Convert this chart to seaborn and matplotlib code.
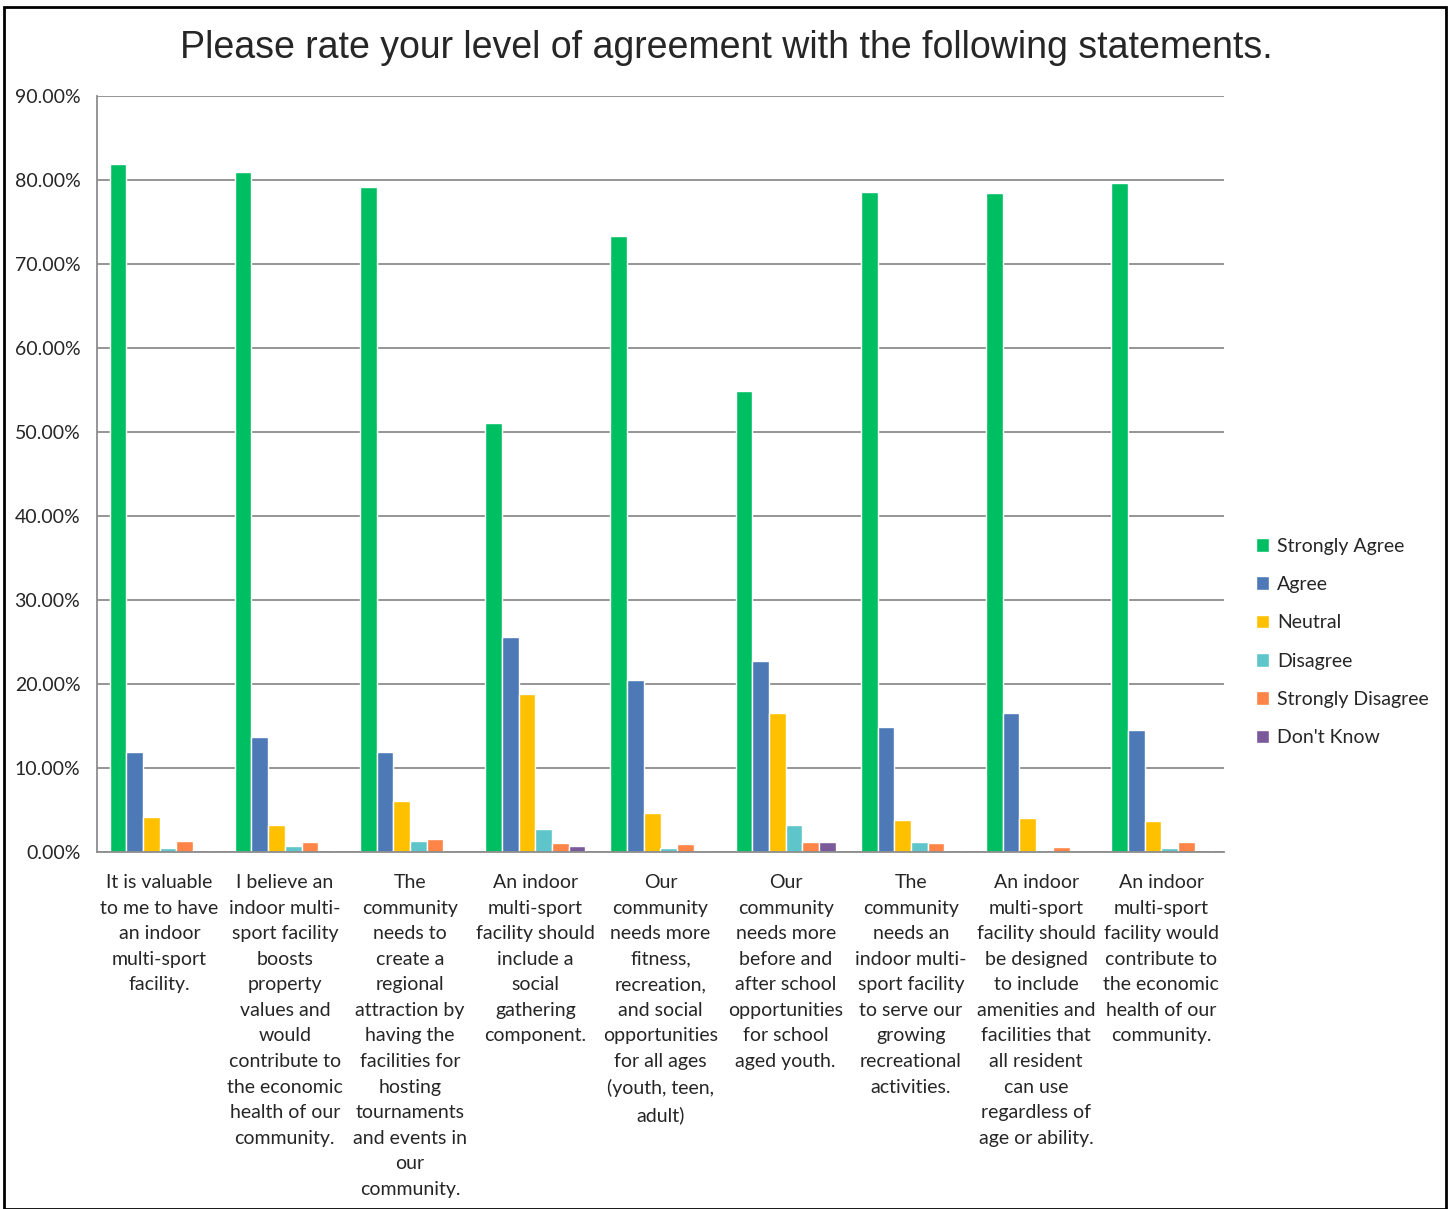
import numpy as np
import pandas as pd
import seaborn as sns
import matplotlib.pyplot as plt
from matplotlib.patches import Rectangle, Patch
from matplotlib.ticker import PercentFormatter, FixedLocator

statements = [
    "It is valuable\nto me to have\nan indoor\nmulti-sport\nfacility.",
    "I believe an\nindoor multi-\nsport facility\nboosts\nproperty\nvalues and\nwould\ncontribute to\nthe economic\nhealth of our\ncommunity.",
    "The\ncommunity\nneeds to\ncreate a\nregional\nattraction by\nhaving the\nfacilities for\nhosting\ntournaments\nand events in\nour\ncommunity.",
    "An indoor\nmulti-sport\nfacility should\ninclude a\nsocial\ngathering\ncomponent.",
    "Our\ncommunity\nneeds more\nfitness,\nrecreation,\nand social\nopportunities\nfor all ages\n(youth, teen,\nadult)",
    "Our\ncommunity\nneeds more\nbefore and\nafter school\nopportunities\nfor school\naged youth.",
    "The\ncommunity\nneeds an\nindoor multi-\nsport facility\nto serve our\ngrowing\nrecreational\nactivities.",
    "An indoor\nmulti-sport\nfacility should\nbe designed\nto include\namenities and\nfacilities that\nall resident\ncan use\nregardless of\nage or ability.",
    "An indoor\nmulti-sport\nfacility would\ncontribute to\nthe economic\nhealth of our\ncommunity.",
]
responses = ["Strongly Agree", "Agree", "Neutral", "Disagree", "Strongly Disagree", "Don't Know"]
colors = ["#00BF63", "#4E79B7", "#FFC000", "#5EC6CB", "#FF8447", "#7A5A99"]

strongly_agree = [81.9, 81.0, 79.2, 51.1, 73.3, 54.9, 78.6, 78.5, 79.6]
agree = [11.9, 13.7, 11.9, 25.6, 20.5, 22.7, 14.9, 16.5, 14.5]
neutral = [4.2, 3.2, 6.1, 18.8, 4.6, 16.5, 3.8, 4.0, 3.7]
disagree = [0.5, 0.7, 1.3, 2.7, 0.5, 3.2, 1.2, 0.2, 0.5]
strongly_disagree = [1.3, 1.2, 1.5, 1.1, 1.0, 1.2, 1.1, 0.6, 1.2]
dont_know = [0.2, 0.2, 0.0, 0.7, 0.0, 1.2, 0.2, 0.0, 0.2]

series = [strongly_agree, agree, neutral, disagree, strongly_disagree, dont_know]
rows = []
for resp, vals in zip(responses, series):
    for i, v in enumerate(vals):
        rows.append({"Statement": i, "Response": resp, "Value": v / 100})
df = pd.DataFrame(rows)

sns.set_style("white")
plt.rcParams["font.family"] = ["Lato", "DejaVu Sans"]

fig = plt.figure(figsize=(14.52, 12.09), dpi=100)
ax = fig.add_axes([97 / 1452, 1 - 852 / 1209, (1224 - 97) / 1452, (852 - 96) / 1209])

sns.barplot(data=df, x="Statement", y="Value", hue="Response", hue_order=responses,
            palette=colors, width=0.8, ax=ax, legend=False, saturation=1)

ax.set_ylim(0, 0.9)
ax.set_xlim(-0.5, len(statements) - 0.5)
ax.yaxis.set_major_formatter(PercentFormatter(1, decimals=2))
ax.set_yticks(np.arange(0, 0.91, 0.1))
ax.grid(axis="y", color="#8c8c8c", linewidth=1.3)
ax.set_axisbelow(True)
for s in ["top", "right"]:
    ax.spines[s].set_visible(False)
for s in ["left", "bottom"]:
    ax.spines[s].set_color("#8c8c8c")
    ax.spines[s].set_linewidth(1.3)

ax.set_xticks(range(len(statements)))
ax.set_xticklabels(statements, fontsize=14, linespacing=1.61, va="top")
ax.tick_params(axis="x", which="major", length=0, pad=16)
ax.xaxis.set_minor_locator(FixedLocator(np.arange(-0.5, len(statements), 1)))
ax.tick_params(axis="x", which="minor", length=6, color="#8c8c8c", width=1.3)
ax.tick_params(axis="y", labelsize=14, length=6, color="#8c8c8c", width=1.3, pad=6)
ax.set_xlabel("")
ax.set_ylabel("")

fig.text(0.5, 1 - 48 / 1209, "Please rate your level of agreement with the following statements.",
         ha="center", va="center", fontsize=27, family=["Liberation Sans", "DejaVu Sans"])

handles = [Patch(facecolor=c, label=r) for r, c in zip(responses, colors)]
fig.legend(handles=handles, loc="center left", bbox_to_anchor=(1238 / 1452, 1 - 642 / 1209),
           frameon=False, fontsize=14, handlelength=0.7, handleheight=0.7,
           handletextpad=0.4, labelspacing=1.1)

fig.patches.append(Rectangle((4 / 1452, 0), 1442 / 1452, 1 - 7 / 1209, transform=fig.transFigure,
                             fill=False, edgecolor="black", linewidth=2))

fig.savefig("out.png", dpi=100)
